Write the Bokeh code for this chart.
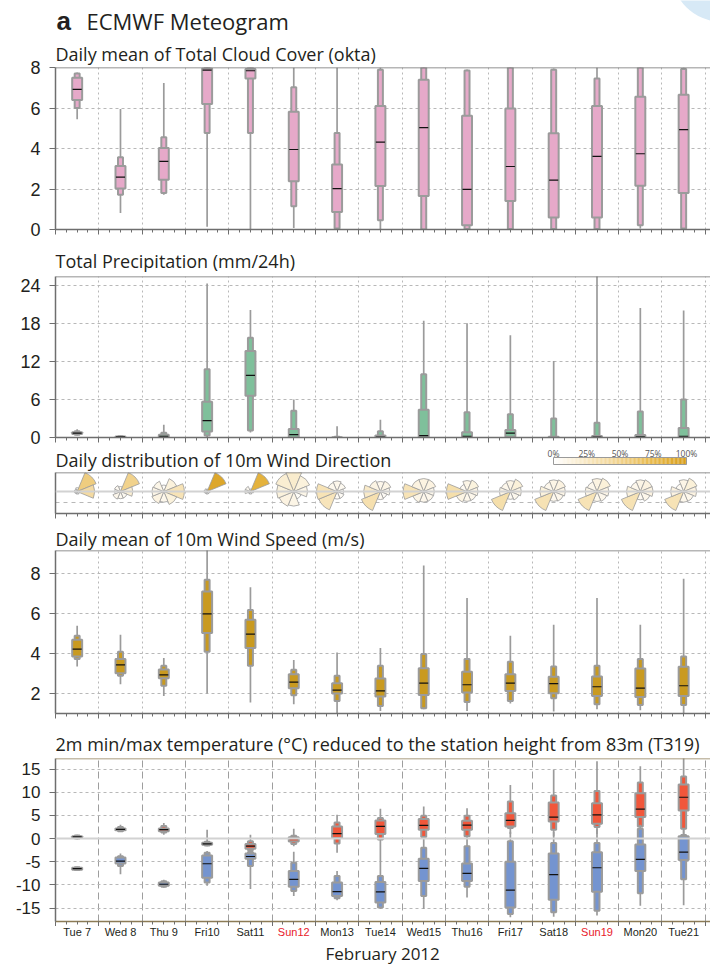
import numpy as np
from bokeh.plotting import figure
from bokeh.models import (ColumnDataSource, FixedTicker, Span, LinearColorMapper, Range1d)
from bokeh.layouts import column
from bokeh.transform import dodge
from bokeh.embed import file_html
from bokeh.resources import INLINE
from bokeh.core.properties import value

# ---------------- data ----------------
days = ["Tue 7", "Wed 8", "Thu 9", "Fri10", "Sat11", "Sun12", "Mon13", "Tue14",
        "Wed15", "Thu16", "Fri17", "Sat18", "Sun19", "Mon20", "Tue21"]
day_label_colors = ["#231F20"] * 5 + ["#E8202A"] + ["#231F20"] * 6 + ["#E8202A"] + ["#231F20"] * 2

# Total cloud cover (okta): min, p10, p25, median, p75, p90, max
cloud_min = [5.45, 0.82, 1.72, 0.13, 0.0, 0.08, 0.0, 0.0, 0.0, 0.0, 0.0, 0.0, 0.0, 0.05, 0.0]
cloud_p10 = [6.0, 1.72, 1.8, 4.77, 4.77, 1.15, 0.05, 0.46, 0.0, 0.02, 0.02, 0.03, 0.02, 0.21, 0.05]
cloud_p25 = [6.4, 2.02, 2.46, 6.2, 7.46, 2.38, 0.87, 2.15, 1.66, 0.21, 1.41, 0.59, 0.59, 2.16, 1.8]
cloud_med = [6.92, 2.59, 3.36, 7.87, 7.84, 3.95, 2.02, 4.31, 5.03, 1.98, 3.11, 2.44, 3.61, 3.74, 4.93]
cloud_p75 = [7.5, 3.13, 4.03, 7.95, 7.92, 5.82, 3.21, 6.1, 7.39, 5.62, 5.98, 4.75, 6.1, 6.56, 6.66]
cloud_p90 = [7.7, 3.57, 4.56, 8.0, 8.0, 7.02, 4.77, 7.89, 8.0, 7.85, 8.0, 7.89, 7.46, 8.0, 7.92]
cloud_max = [7.75, 5.95, 7.23, 8.0, 8.0, 8.0, 8.0, 8.0, 8.0, 7.9, 8.0, 7.95, 8.0, 8.0, 8.0]

# Total precipitation (mm/24h)
prec_min = [0.3, 0.0, 0.0, 0.0, 0.8, 0.0, 0.0, 0.0, 0.0, 0.0, 0.0, 0.0, 0.0, 0.0, 0.0]
prec_p10 = [0.45, 0.0, 0.0, 0.3, 1.1, 0.0, 0.0, 0.0, 0.0, 0.0, 0.0, 0.0, 0.0, 0.0, 0.0]
prec_p25 = [0.55, 0.05, 0.05, 0.95, 6.6, 0.0, 0.0, 0.0, 0.05, 0.0, 0.1, 0.0, 0.0, 0.0, 0.05]
prec_med = [0.7, 0.1, 0.2, 2.67, 9.84, 0.45, 0.0, 0.05, 0.3, 0.2, 0.7, 0.0, 0.05, 0.1, 0.2]
prec_p75 = [0.85, 0.15, 0.45, 5.65, 13.7, 1.36, 0.05, 0.3, 4.4, 0.85, 1.2, 0.1, 0.25, 0.4, 1.5]
prec_p90 = [1.0, 0.2, 0.75, 10.8, 15.8, 4.25, 0.1, 1.0, 10.0, 4.0, 3.7, 3.0, 2.35, 4.1, 6.0]
prec_max = [1.3, 0.3, 2.0, 24.4, 20.2, 6.0, 1.8, 2.8, 18.5, 18.1, 16.2, 12.1, 27.0, 20.5, 20.1]

# Wind direction frequency (%) per sector: N, NE, E, SE, S, SW, W, NW
wind_dir_freq = [
    [2, 55, 40, 1, 0, 0, 1, 1],
    [3, 50, 18, 6, 6, 8, 4, 5],
    [3, 14, 30, 14, 8, 12, 10, 9],
    [1, 92, 2, 0, 0, 1, 2, 2],
    [1, 82, 2, 1, 1, 1, 6, 6],
    [20, 14, 9, 3, 10, 12, 14, 18],
    [8, 6, 3, 4, 4, 28, 30, 7],
    [8, 10, 7, 4, 5, 33, 22, 11],
    [12, 12, 8, 8, 8, 10, 30, 12],
    [10, 13, 10, 8, 8, 11, 35, 5],
    [10, 15, 10, 7, 5, 35, 10, 8],
    [10, 12, 10, 8, 7, 31, 14, 8],
    [12, 15, 10, 8, 7, 30, 10, 8],
    [10, 12, 12, 8, 5, 31, 14, 8],
    [10, 15, 12, 8, 8, 30, 12, 5],
]
sector_bearing = [0, 45, 90, 135, 180, 225, 270, 315]
cb_ticks = [0, 25, 50, 75, 100]
cb_labels = ["0%", "25%", "50%", "75%", "100%"]

# 10m wind speed (m/s)
ws_min = [3.36, 2.47, 1.88, 2.0, 1.55, 1.46, 1.0, 1.13, 1.21, 1.13, 1.5, 1.1, 1.21, 1.16, 1.0]
ws_p10 = [3.73, 2.89, 2.39, 4.09, 3.39, 1.92, 1.63, 1.38, 1.26, 1.58, 1.63, 1.77, 1.46, 1.43, 1.43]
ws_p25 = [3.86, 3.02, 2.77, 5.03, 4.28, 2.27, 2.0, 1.85, 1.93, 2.05, 2.13, 2.02, 1.88, 1.83, 1.88]
ws_med = [4.23, 3.44, 2.94, 5.99, 4.98, 2.57, 2.17, 2.13, 2.52, 2.44, 2.52, 2.5, 2.34, 2.27, 2.39]
ws_p75 = [4.7, 3.73, 3.21, 7.11, 5.7, 2.97, 2.52, 2.75, 3.27, 3.09, 2.97, 2.84, 2.85, 3.26, 3.34]
ws_p90 = [4.9, 4.09, 3.39, 7.71, 6.19, 3.19, 2.89, 3.39, 3.98, 3.73, 3.59, 3.36, 3.39, 3.73, 3.86]
ws_max = [5.4, 4.95, 3.78, 9.5, 7.33, 3.68, 4.06, 4.28, 8.42, 6.79, 4.9, 5.45, 6.79, 5.45, 7.75]

# 2m maximum temperature (degC)
tx_min = [-0.2, 1.43, 0.86, -1.64, -2.7, -1.64, -3.07, -0.5, 0.0, 0.2, 1.0, 0.5, 1.0, 1.5, 0.8]
tx_p10 = [0.0, 1.6, 1.3, -1.5, -2.5, -1.14, -1.07, -0.2, 0.36, 0.5, 2.29, 1.93, 2.5, 2.64, 2.14]
tx_p25 = [0.15, 1.8, 1.6, -1.35, -2.2, -0.6, 0.14, 1.0, 1.93, 1.93, 2.64, 3.71, 3.21, 4.64, 6.07]
tx_med = [0.36, 2.0, 1.93, -1.14, -1.64, 0.0, 1.07, 2.64, 2.86, 2.93, 3.93, 4.64, 5.14, 6.36, 8.93]
tx_p75 = [0.5, 2.2, 2.2, -0.9, -1.14, 0.3, 2.64, 3.93, 4.21, 3.86, 5.5, 7.79, 7.64, 9.79, 11.7]
tx_p90 = [0.65, 2.5, 2.7, -0.7, -0.57, 0.64, 3.5, 4.43, 4.93, 4.93, 8.0, 9.29, 10.3, 12.1, 13.4]
tx_max = [0.86, 3.0, 3.36, 1.93, 0.86, 2.14, 5.14, 6.43, 6.93, 6.57, 11.57, 14.93, 16.7, 15.64, 17.5]

# 2m minimum temperature (degC)
tn_min = [-6.9, -7.7, -10.6, -10.2, -10.9, -12.4, -13.3, -15.2, -15.2, -12.7, -17.0, -16.9, -16.6, -14.5, -14.4]
tn_p10 = [-6.8, -5.9, -10.4, -9.5, -5.9, -11.3, -12.9, -14.9, -12.4, -10.4, -16.3, -15.9, -15.6, -11.8, -8.79]
tn_p25 = [-6.7, -5.4, -10.2, -8.43, -4.36, -10.4, -12.4, -13.8, -9.14, -9.14, -14.9, -13.2, -11.5, -7.0, -4.64]
tn_med = [-6.5, -4.86, -9.86, -5.43, -3.86, -8.79, -11.43, -11.5, -6.43, -7.5, -11.14, -7.79, -6.29, -4.5, -2.93]
tn_p75 = [-6.3, -4.1, -9.5, -3.64, -3.2, -7.0, -9.5, -9.36, -4.36, -5.36, -5.0, -3.2, -2.93, -1.29, 0.5]
tn_p90 = [-6.2, -3.8, -9.2, -3.07, -2.9, -5.2, -8.07, -8.07, -2.0, -1.64, -0.57, -0.93, -0.93, 2.14, 0.79]
tn_max = [-6.1, -3.2, -8.9, -2.7, -2.7, -2.86, -7.0, -0.5, 0.5, 0.5, 1.5, 1.5, 2.0, 3.0, 2.0]

cloud_ticks = [0, 2, 4, 6, 8]
prec_ticks = [0, 6, 12, 18, 24]
ws_ticks = [2, 4, 6, 8]
temp_ticks = [-15, -10, -5, 0, 5, 10, 15]
temp_tick_labels = ["-15", "-10", "-5", "0", "5", "10", "15"]

# ---------------- styling ----------------
W = 710
LB = 55
FONT = "Open Sans"
TFONT = "Liberation Sans"
INK = "#231F20"
AXC = "#6E6E6E"
GRID = "#B8B8B8"
OUTL = "#9B9B9B"

centers = [i + 0.5 for i in range(len(days))]
xr = Range1d(0, 15.12)
major_x = list(range(0, 16))
minor_x = [q / 4 for q in range(0, 61)]
page_x = Range1d(LB, W)          # strips: x in page pixels


def strip(height, yrange):
    p = figure(width=W, height=height, x_range=page_x, y_range=yrange, title=None,
               x_axis_type=None, y_axis_type=None, output_backend="svg",
               toolbar_location=None, min_border_left=LB, min_border_right=0,
               min_border_top=0, min_border_bottom=0)
    p.outline_line_color = None
    p.grid.visible = False
    return p


def panel(height, mbt, mbb, yr, title, standoff, yticks=None, ylabels=None,
          top_color=AXC, ysize="18px"):
    p = figure(width=W, height=height, x_range=xr, y_range=Range1d(*yr),
               output_backend="svg", toolbar_location=None, title=title,
               min_border_left=LB, min_border_right=0,
               min_border_top=mbt, min_border_bottom=mbb)
    if title is not None:
        p.title.text_font = FONT
        p.title.text_font_size = "18px"
        p.title.text_font_style = "normal"
        p.title.text_color = INK
        p.title.align = "left"
        p.title.offset = 0
        p.title.standoff = standoff
    p.outline_line_color = None

    p.xaxis.ticker = FixedTicker(ticks=major_x, minor_ticks=minor_x)
    p.xaxis.major_label_text_font_size = "1px"
    p.xaxis.major_label_text_color = None
    p.xaxis.major_label_standoff = 0
    p.xaxis.major_tick_in = 0
    p.xaxis.major_tick_out = 5
    p.xaxis.minor_tick_in = 0
    p.xaxis.minor_tick_out = 3
    p.xaxis.axis_line_color = AXC
    p.xaxis.axis_line_width = 1.5
    p.xaxis.major_tick_line_color = AXC
    p.xaxis.minor_tick_line_color = AXC
    p.xgrid.grid_line_color = GRID
    p.xgrid.grid_line_dash = "2 3"

    p.yaxis.axis_line_color = AXC
    p.yaxis.axis_line_width = 1.5
    p.yaxis.minor_tick_line_color = None
    p.yaxis.major_tick_in = 0
    p.yaxis.major_tick_out = 6
    p.yaxis.major_tick_line_color = AXC
    p.yaxis.major_label_text_font = TFONT
    p.yaxis.major_label_text_font_size = ysize
    p.yaxis.major_label_text_color = INK
    p.yaxis.major_label_standoff = 9
    if yticks is not None:
        p.yaxis.ticker = FixedTicker(ticks=yticks)
        if ylabels is not None:
            p.yaxis.major_label_overrides = {t: l for t, l in zip(yticks, ylabels)}
    p.ygrid.grid_line_color = GRID
    p.ygrid.grid_line_dash = "3 3"
    p.add_layout(Span(location=yr[1], dimension="width", line_color=top_color, line_width=1.5))
    return p


def boxplot(p, mn, p10, p25, med, p75, p90, mx, color):
    src = ColumnDataSource(dict(x=centers, mn=mn, p10=p10, p25=p25, med=med, p75=p75, p90=p90, mx=mx))
    p.segment(x0="x", y0="mn", x1="x", y1="mx", source=src, line_color=OUTL, line_width=1.7)
    p.vbar(x="x", width=0.115, bottom="p10", top="p90", source=src,
           fill_color=color, line_color=OUTL, line_width=2)
    p.vbar(x="x", width=0.23, bottom="p25", top="p75", source=src,
           fill_color=color, line_color=OUTL, line_width=2)
    p.segment(x0=dodge("x", -0.105, range=xr), y0="med", x1=dodge("x", 0.105, range=xr), y1="med",
              source=src, line_color="#111111", line_width=1.2)


# ---- header: main title ----
p0 = strip(36, Range1d(36, 0))
p0.circle(x=[722], y=[-30], radius=51.5, fill_color="#D7E9F6", line_color=None)
p0.text(x=[56], y=[20.7], text=["a"], text_font=value(TFONT), text_font_style="bold",
        text_font_size="26px", text_color=INK, text_baseline="middle")
p0.text(x=[86], y=[20.7], text=["ECMWF Meteogram"], text_font=value(FONT),
        text_font_size="22px", text_color=INK, text_baseline="middle")

# ---- panel 1: cloud cover ----
p1 = panel(206, 31, 13, (0, 8), "Daily mean of Total Cloud Cover (okta)", 4,
           cloud_ticks, [str(t) for t in cloud_ticks])
boxplot(p1, cloud_min, cloud_p10, cloud_p25, cloud_med, cloud_p75, cloud_p90, cloud_max, "#E6A9C9")

# ---- panel 2: precipitation ----
p2 = panel(205, 34, 10, (0, 25.5), "Total Precipitation (mm/24h)", 7,
           prec_ticks, [str(t) for t in prec_ticks])
boxplot(p2, prec_min, prec_p10, prec_p25, prec_med, prec_p75, prec_p90, prec_max, "#7FC09B")

# ---- header of panel 3: subtitle + colour bar ----
anchors = [(0.0, (255, 255, 255)), (0.25, (248, 231, 192)), (0.5, (241, 210, 140)),
           (0.75, (232, 185, 74)), (1.0, (216, 159, 28))]
pal = []
for t in np.linspace(0, 1, 101):
    for j in range(len(anchors) - 1):
        t0, c0 = anchors[j]
        t1, c1 = anchors[j + 1]
        if t0 <= t <= t1:
            u = (t - t0) / (t1 - t0)
            rgb = [int(round(a + (b - a) * u)) for a, b in zip(c0, c1)]
            pal.append("#%02x%02x%02x" % tuple(rgb))
            break
mapper = LinearColorMapper(palette=pal, low=0, high=100)

ph = strip(25, Range1d(472, 447))
ph.extra_x_ranges = {"pct": Range1d(-(553 - LB) / 1.33, (W - 553) / 1.33)}
ph.text(x=[55], y=[459.6], text=["Daily distribution of 10m Wind Direction"],
        text_font=value(FONT), text_font_size="18px", text_color=INK, text_baseline="middle")
cb_edges = np.linspace(0, 100, len(pal) + 1)
cb_src = ColumnDataSource(dict(l=cb_edges[:-1], r=cb_edges[1:], v=(cb_edges[:-1] + cb_edges[1:]) / 2))
ph.quad(left="l", right="r", top=457, bottom=464, source=cb_src, x_range_name="pct",
        fill_color={"field": "v", "transform": mapper}, line_color=None)
ph.quad(left=[0], right=[100], top=[457], bottom=[464], x_range_name="pct",
        fill_color=None, line_color="#9A9A9A", line_width=1)
ph.text(x=cb_ticks, y=[452.9] * len(cb_ticks), text=cb_labels, x_range_name="pct",
        text_font=value(FONT), text_font_size="8.5px", text_color="#555555",
        text_align="center", text_baseline="middle")

# ---- panel 3: wind direction roses ----
p3 = panel(51, 0, 10, (-1.07, 0.93), None, 0, [-0.55])
p3.yaxis.major_label_text_font_size = "1px"
p3.yaxis.major_label_text_color = None
p3.yaxis.major_tick_line_color = None
p3.ygrid.grid_line_dash = "4 4"
p3.add_layout(Span(location=0, dimension="width", line_color="#D2D2D2", line_width=2))

wx, wf, wr, wsa, wea = [], [], [], [], []
for i, row in enumerate(wind_dir_freq):
    fmax = max(row)
    for b, f in zip(sector_bearing, row):
        wx.append(centers[i])
        wf.append(f)
        wr.append(max(2.5, 20.5 * np.sqrt(f / fmax)))
        c = 90 - b
        wsa.append(np.radians(c - 22.5))
        wea.append(np.radians(c + 22.5))
wsrc = ColumnDataSource(dict(x=wx, f=wf, r=wr, sa=wsa, ea=wea))
p3.wedge(x="x", y=0, radius="r", radius_units="screen", start_angle="sa", end_angle="ea",
         source=wsrc, fill_color={"field": "f", "transform": mapper},
         line_color=OUTL, line_width=0.8)

# ---- panel 4: wind speed ----
p4 = panel(202, 27, 12, (1.0, 9.17), "Daily mean of 10m Wind Speed (m/s)", 0,
           ws_ticks, [str(t) for t in ws_ticks])
boxplot(p4, ws_min, ws_p10, ws_p25, ws_med, ws_p75, ws_p90, ws_max, "#C99A20")

# ---- panel 5: temperature ----
p5 = panel(201, 33, 5, (-17.9, 17.3),
           "2m min/max temperature (\u00b0C) reduced to the station height from 83m (T319)", 6,
           temp_ticks, temp_tick_labels, top_color="#8C7B55", ysize="17px")
p5.xaxis.axis_line_color = "#8C7B55"
p5.xgrid.grid_line_dash = "7 4"
p5.xgrid.grid_line_color = "#9E9E9E"
p5.add_layout(Span(location=0, dimension="width", line_color="#D2D2D2", line_width=2))
boxplot(p5, tx_min, tx_p10, tx_p25, tx_med, tx_p75, tx_p90, tx_max, "#F1573B")
boxplot(p5, tn_min, tn_p10, tn_p25, tn_med, tn_p75, tn_p90, tn_max, "#7494D0")

# ---- bottom strip: day labels + month ----
p6 = figure(width=W, height=38, x_range=xr, y_range=Range1d(0, 1),
            x_axis_type=None, y_axis_type=None, output_backend="svg", toolbar_location=None,
            min_border_left=LB, min_border_right=0, min_border_top=0, min_border_bottom=0,
            title="February 2012", title_location="below")
p6.title.text_font = FONT
p6.title.text_font_size = "17px"
p6.title.text_font_style = "normal"
p6.title.text_color = INK
p6.title.align = "left"
p6.title.offset = 270
p6.title.standoff = 0
p6.outline_line_color = None
p6.grid.visible = False
lsrc = ColumnDataSource(dict(x=centers, t=days, c=day_label_colors))
p6.text(x="x", y=0.6, text="t", text_color="c", source=lsrc, text_align="center",
        text_baseline="middle", text_font=value(TFONT), text_font_size="11px")

layout = column(p0, p1, p2, ph, p3, p4, p5, p6, spacing=0)
open("out.html", "w").write(file_html(layout, INLINE))
